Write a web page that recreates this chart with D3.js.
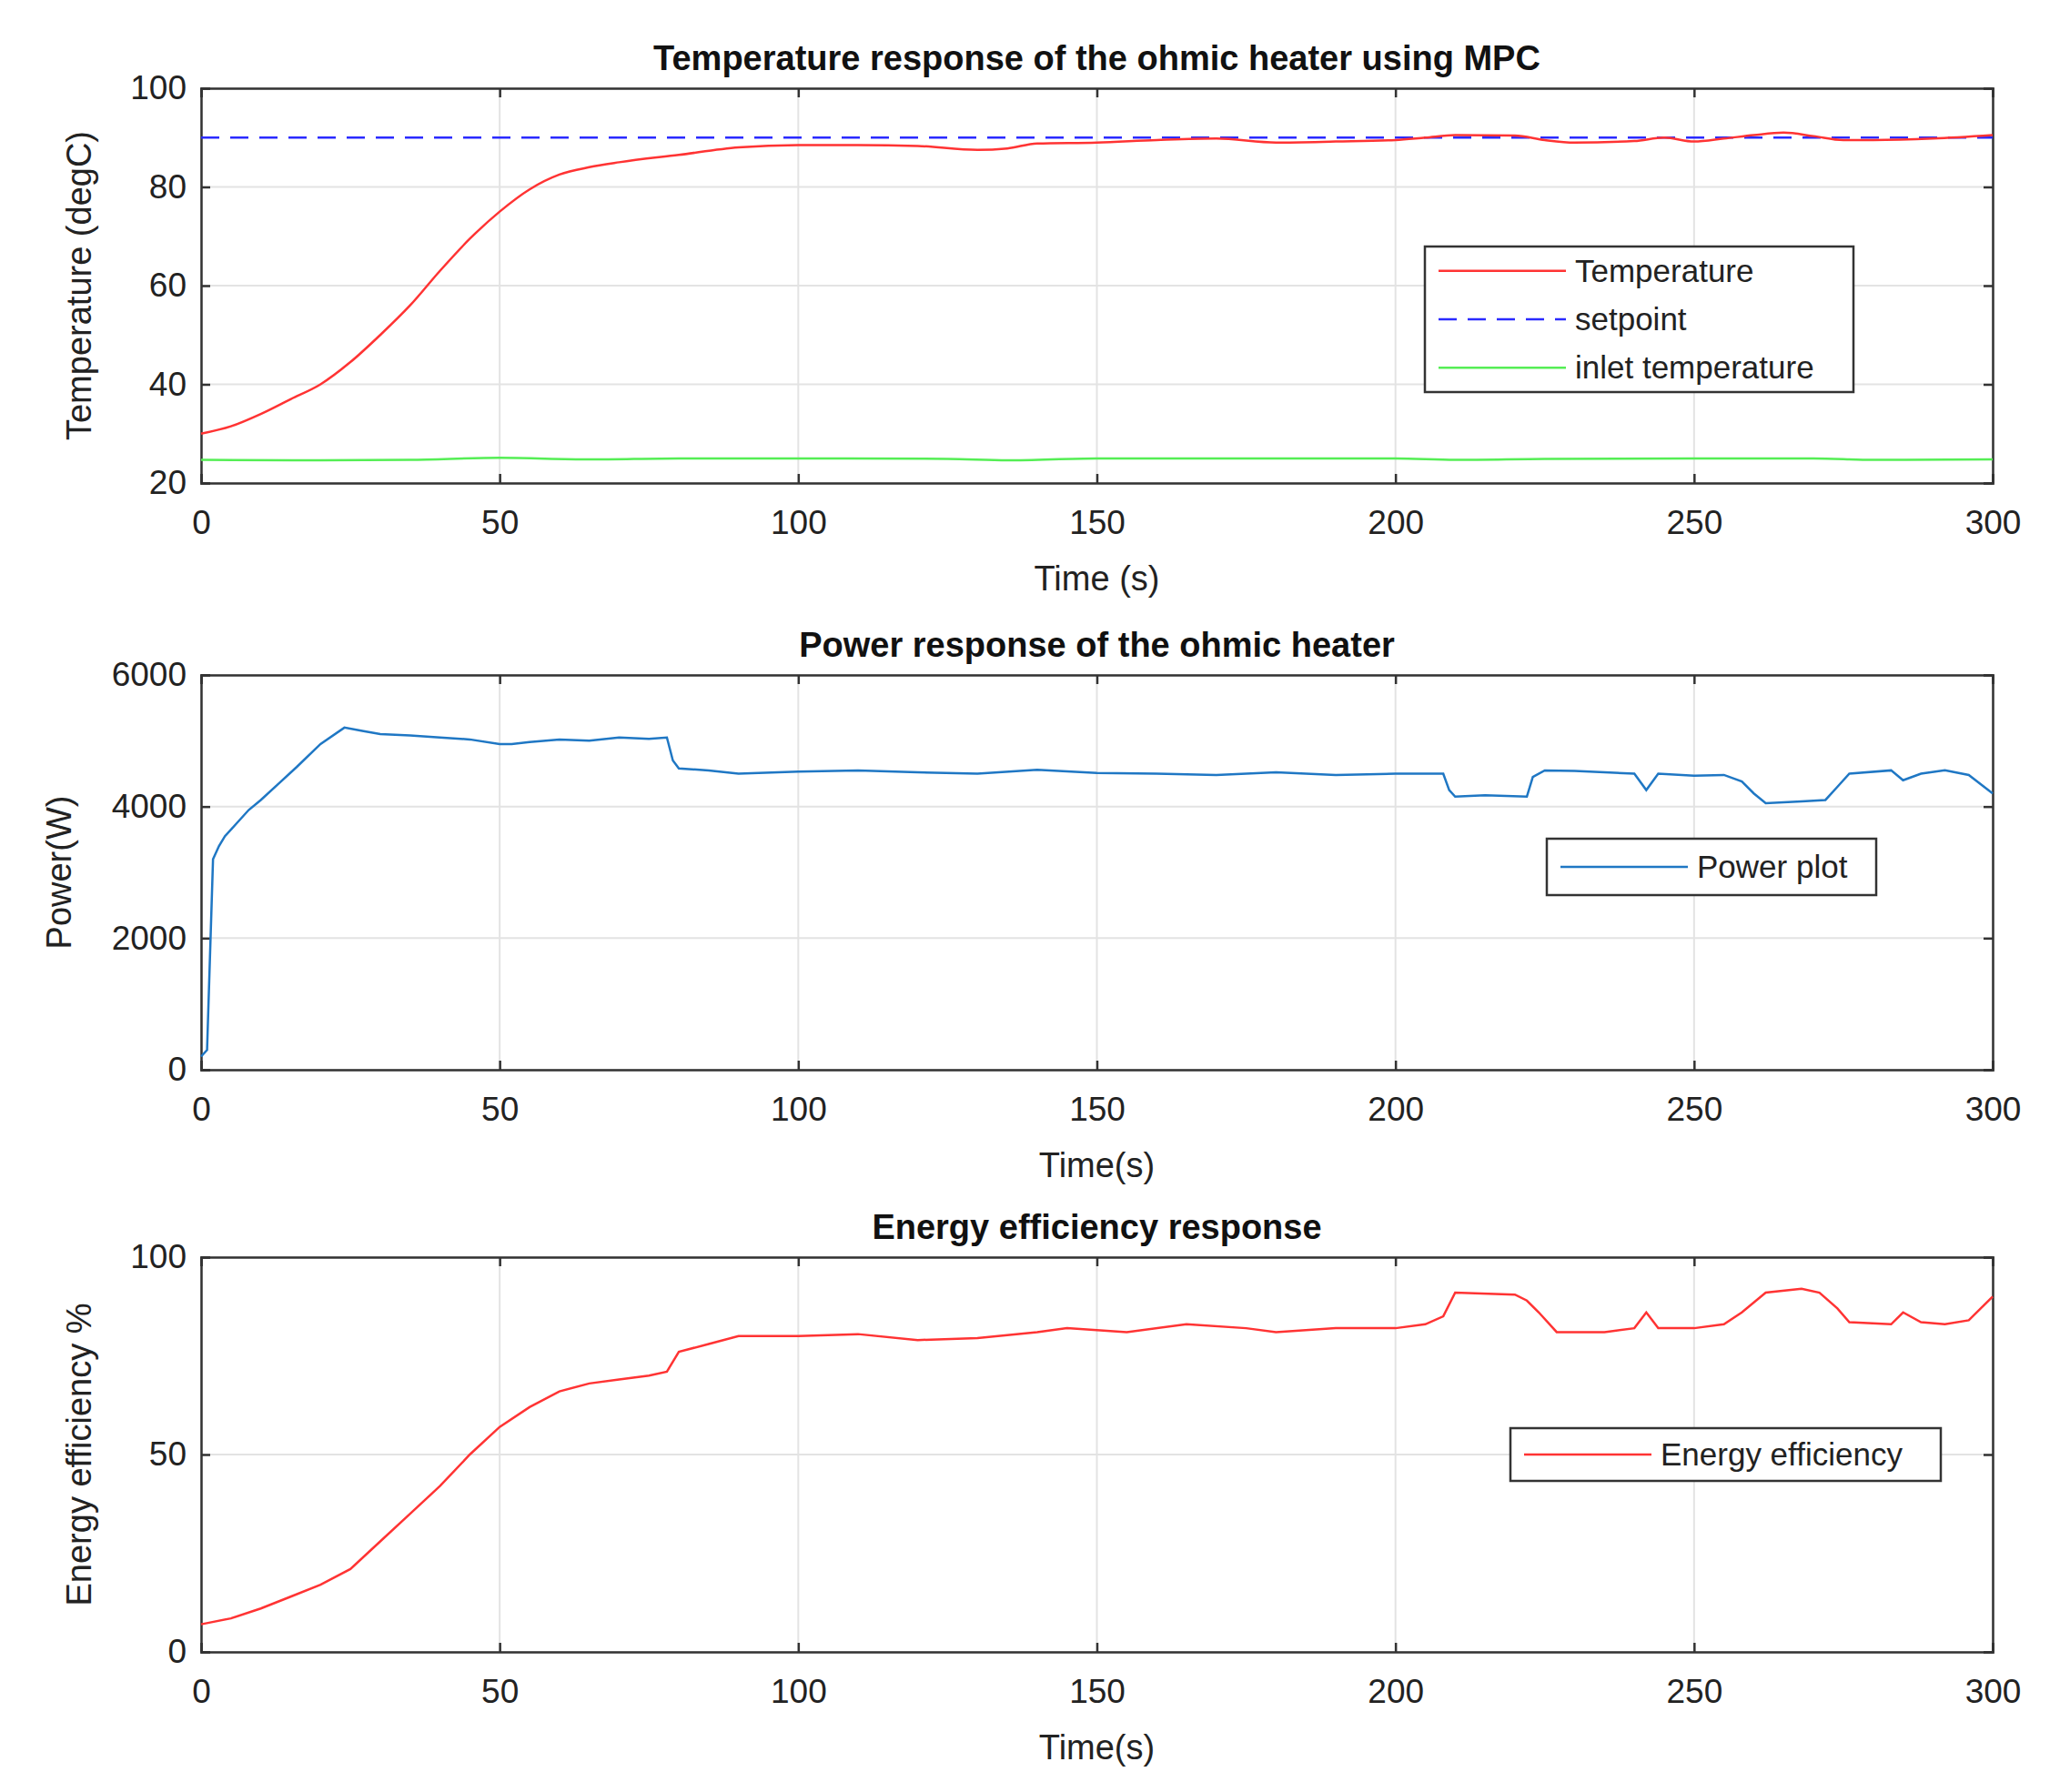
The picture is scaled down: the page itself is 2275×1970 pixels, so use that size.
<!DOCTYPE html><html><head><meta charset="utf-8"><script src="https://cdn.jsdelivr.net/npm/d3@7"></script>
<style>body{margin:0;background:#fff}text{font-family:"Liberation Sans",Arial,sans-serif}</style></head><body>
<svg id="c" width="2275" height="1970"></svg>
<script>
const xTicks=[0,50,100,150,200,250,300];
const tempT=[0,5,10,15,20,25,30,35,40,45,50,55,60,65,70,80,90,100,110,120,130,135,140,150,160,170,180,190,200,205,210,220,225,230,240,245,250,255,260,265,270,275,280,290,300];
const tempV=[30,31.5,34,37,40,44.5,50,56,63,69.5,75,79.5,82.5,84,85,86.5,88,88.5,88.5,88.3,87.5,87.8,88.8,89,89.5,89.8,89,89.2,89.5,90,90.5,90.4,89.5,89,89.3,90,89.2,89.8,90.5,91,90.3,89.5,89.5,89.8,90.5];
const setpointV=90;
const inletT=[0,20,35,50,65,80,100,125,135,150,175,200,210,225,250,270,280,300];
const inletV=[24.7,24.6,24.7,25.1,24.8,25,25,24.9,24.6,25,25,25,24.7,24.9,25,25,24.7,24.8];
const powT=[0,1,2,3,4,6,8,10,13,16,20,24,27,30,35,40,45,50,52,55,60,65,70,75,78,79,80,85,90,100,110,120,130,140,150,160,170,180,190,200,208,209,210,215,222,223,225,230,240,242,244,250,255,258,260,262,268,272,274,276,283,285,288,292,296,300];
const powV=[200,300,3200,3400,3550,3750,3950,4100,4350,4600,4950,5200,5150,5100,5080,5050,5020,4950,4950,4980,5020,5000,5050,5030,5050,4700,4580,4550,4500,4530,4550,4520,4500,4560,4510,4500,4480,4520,4480,4500,4500,4250,4150,4170,4150,4450,4550,4540,4500,4250,4500,4470,4480,4380,4200,4050,4080,4100,4300,4500,4550,4400,4500,4550,4480,4200];
const effT=[0,5,10,15,20,25,30,35,40,45,50,55,60,65,70,75,78,80,85,90,100,110,120,130,140,145,150,155,165,175,180,190,200,205,208,210,220,222,224,227,235,240,242,244,250,255,258,262,268,271,274,276,283,285,288,292,296,300];
const effV=[7,8.5,11,14,17,21,28,35,42,50,57,62,66,68,69,70,71,76,78,80,80,80.5,79,79.5,81,82,81.5,81,83,82,81,82,82,83,85,91,90.5,89,86,81,81,82,86,82,82,83,86,91,92,91,87,83.5,83,86,83.5,83,84,90];

const svg=d3.select("#c");
const L=221,R=2190;
const x=d3.scaleLinear().domain([0,300]).range([L,R]);
function panel(o){
  const g=svg.append("g");
  const y=d3.scaleLinear().domain(o.yd).range([o.bot,o.top]);
  g.append("g").selectAll("line").data(xTicks).join("line").attr("x1",d=>x(d)).attr("x2",d=>x(d)).attr("y1",o.top).attr("y2",o.bot).attr("stroke","#e3e3e3").attr("stroke-width",2);
  g.append("g").selectAll("line").data(o.yt).join("line").attr("x1",L).attr("x2",R).attr("y1",d=>y(d)).attr("y2",d=>y(d)).attr("stroke","#e3e3e3").attr("stroke-width",2);
  g.append("g").attr("transform",`translate(0,${o.bot})`).call(d3.axisBottom(x).tickValues(xTicks).tickSize(-10).tickPadding(30));
  g.append("g").attr("transform",`translate(${L},0)`).call(d3.axisLeft(y).tickValues(o.yt).tickFormat(d3.format("d")).tickSize(-10).tickPadding(16));
  g.append("g").attr("transform",`translate(0,${o.top})`).call(d3.axisTop(x).tickValues(xTicks).tickSize(-10).tickFormat(""));
  g.append("g").attr("transform",`translate(${R},0)`).call(d3.axisRight(y).tickValues(o.yt).tickSize(-10).tickFormat(""));
  g.selectAll(".domain,.tick line").attr("stroke","#333").attr("stroke-width",2.5);
  g.selectAll(".tick text").attr("font-size",37).attr("fill","#222");
  o.series.forEach(s=>{
    g.append("path").datum(s.t.map((t,i)=>[t,s.v[i]])).attr("fill","none").attr("stroke",s.c).attr("stroke-width",2.5)
     .attr("stroke-dasharray",s.dash||null).attr("d",d3.line().x(d=>x(d[0])).y(d=>y(d[1])).curve(s.curve||d3.curveLinear));
  });
  g.append("text").attr("x",(L+R)/2).attr("y",o.top-20).attr("text-anchor","middle").attr("font-size",38).attr("font-weight","bold").attr("fill","#111").text(o.title);
  g.append("text").attr("x",(L+R)/2).attr("y",o.bot+118).attr("text-anchor","middle").attr("font-size",38).attr("fill","#222").text(o.xl);
  g.append("text").attr("transform",`translate(${o.ylx},${(o.top+o.bot)/2}) rotate(-90)`).attr("text-anchor","middle").attr("font-size",38).attr("fill","#222").text(o.yl);
  const lg=o.leg;
  g.append("rect").attr("x",lg.x).attr("y",lg.y).attr("width",lg.w).attr("height",lg.h).attr("fill","#fff").attr("stroke","#333").attr("stroke-width",2.5);
  lg.items.forEach((it,i)=>{
    const yy=lg.y+lg.h/(lg.items.length)*(i+0.5);
    g.append("line").attr("x1",lg.x+15).attr("x2",lg.x+155).attr("y1",yy).attr("y2",yy).attr("stroke",it.c).attr("stroke-width",2.5).attr("stroke-dasharray",it.dash||null);
    g.append("text").attr("x",lg.x+165).attr("y",yy+12).attr("font-size",35).attr("fill","#222").text(it.n);
  });
}
panel({top:97,bot:531,yd:[20,100],yt:[20,40,60,80,100],title:"Temperature response of the ohmic heater using MPC",xl:"Time (s)",yl:"Temperature (degC)",ylx:100,
 series:[{t:[0,300],v:[setpointV,setpointV],c:"#2a2aff",dash:"20,12"},{t:inletT,v:inletV,c:"#55ee55",curve:d3.curveMonotoneX},{t:tempT,v:tempV,c:"#ff3333",curve:d3.curveMonotoneX}],
 leg:{x:1566,y:271,w:471,h:160,items:[{n:"Temperature",c:"#ff3333"},{n:"setpoint",c:"#2a2aff",dash:"20,12"},{n:"inlet temperature",c:"#55ee55"}]}});
panel({top:742,bot:1176,yd:[0,6000],yt:[0,2000,4000,6000],title:"Power response of the ohmic heater",xl:"Time(s)",yl:"Power(W)",ylx:78,
 series:[{t:powT,v:powV,c:"#1f77c4"}],
 leg:{x:1700,y:922,w:362,h:62,items:[{n:"Power plot",c:"#1f77c4"}]}});
panel({top:1382,bot:1816,yd:[0,100],yt:[0,50,100],title:"Energy efficiency response",xl:"Time(s)",yl:"Energy efficiency %",ylx:100,
 series:[{t:effT,v:effV,c:"#ff3333"}],
 leg:{x:1660,y:1570,w:473,h:58,items:[{n:"Energy efficiency",c:"#ff3333"}]}});
</script></body></html>
